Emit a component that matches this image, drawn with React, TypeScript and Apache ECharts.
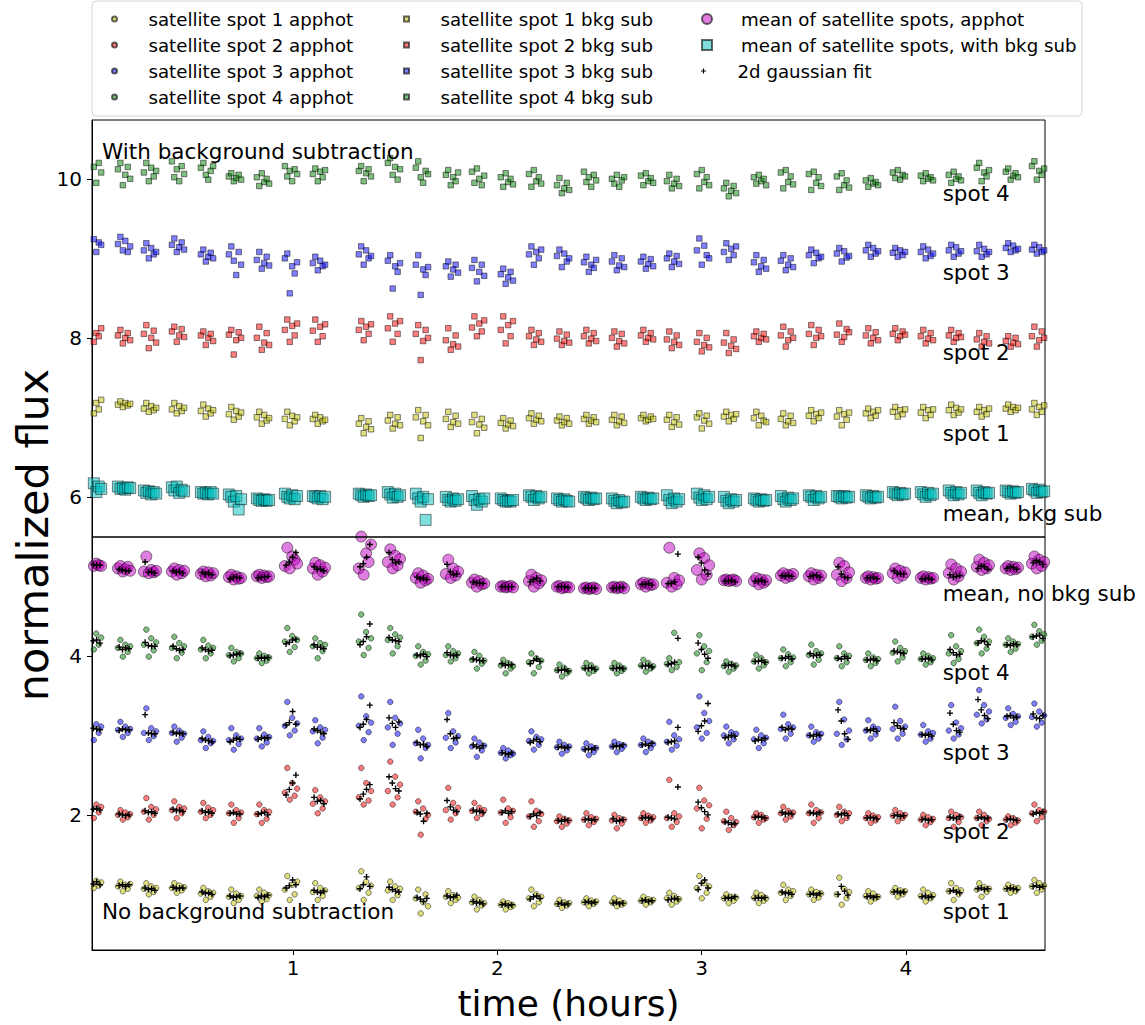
import React, { useEffect, useRef } from "react";
import * as echarts from "echarts";

// visit (cluster) times in hours
const CLUSTER_T = [0.031, 0.173, 0.3, 0.437, 0.579, 0.716, 0.853, 0.99, 1.127, 1.352, 1.494, 1.631, 1.778, 1.906, 2.047, 2.185, 2.322, 2.454, 2.591, 2.733, 2.86, 3.007, 3.139, 3.286, 3.418, 3.555, 3.692, 3.834, 3.966, 4.103, 4.24, 4.377, 4.519, 4.647];
// exposure time offsets inside a visit (hours)
const EXP_OFFSETS = [-0.03, -0.018, -0.006, 0.006, 0.018, 0.03];
const FIT_OFFSETS = [-0.024, -0.008, 0.008, 0.024];

// flux deviations in percent (flux = 1 + v/100), 6 exposures per visit
const A1 = [14,21,8,17,11,15, 10,16,4,12,7,13, 7,14,0,10,3,8, 8,14,2,11,5,9, 1,8,-7,4,-3,2, -3,6,-11,1,-7,-2, -2,6,-9,2,-6,-1, 6,23,-7,12,0,16, 3,14,-7,8,-2,5, 8,29,-7,16,2,11, 5,16,-7,10,-1,7, -5,6,-24,-10,0,-15, -3,4,-11,-1,-7,-4, -10,-3,-19,-7,-14,-11, -13,-9,-19,-11,-16,-14, -5,6,-15,0,-10,-3, -12,-7,-17,-10,-14,-11, -10,-5,-15,-8,-12,-9, -10,-5,-15,-8,-13,-11, -8,-3,-13,-6,-10,-7, -5,2,-13,-2,-9,-6, 8,23,-5,14,2,10, -5,0,-11,-3,-8,-4, -4,2,-11,-1,-8,-5, 2,12,-7,6,-2,4, 0,6,-7,3,-4,1, 0,21,-13,7,-5,3, -2,4,-9,1,-5,-3, 3,8,-3,5,0,4, -2,6,-9,2,-5,-1, 4,14,-7,8,0,5, 6,14,-3,9,3,7, 7,12,2,9,4,8, 10,18,2,14,6,11];
const A2 = [8,21,-4,13,3,10, 0,6,-6,3,-3,1, 4,21,-6,10,0,7, 6,17,-4,10,2,8, 4,15,-4,9,0,6, 2,13,-10,6,-4,3, 1,13,-10,6,-5,4, 28,59,19,40,24,33, 14,31,2,22,8,17, 22,59,13,40,18,30, 30,67,13,48,22,38, 4,17,-25,8,-5,0, 6,34,-6,15,2,9, 5,15,-4,9,1,6, 3,19,-10,8,-3,5, -2,17,-15,5,-8,1, -8,-2,-15,-5,-11,-7, -6,2,-13,-3,-9,-5, -7,0,-17,-4,-11,-6, -4,2,-10,-1,-7,-3, -4,44,-15,2,-9,-2, 8,34,-17,18,-5,12, -8,4,-19,-4,-13,-9, -3,2,-10,0,-6,-4, 2,10,-6,5,-2,3, 2,13,-10,6,-4,3, 0,10,-8,4,-4,2, -4,2,-10,-1,-7,-3, -1,6,-8,2,-4,0, -6,0,-13,-3,-9,-5, -4,4,-15,0,-9,-3, -4,4,-13,0,-8,-5, -6,-2,-13,-4,-10,-7, 2,13,-8,6,-3,4];
const A3 = [9,24,-6,14,3,11, 7,17,-2,11,3,8, 3,34,-6,9,-1,5, 3,11,-8,6,-3,2, -6,5,-16,-2,-10,-7, -6,9,-18,0,-11,-4, -4,9,-14,1,-9,-2, 12,42,0,22,6,15, 5,19,-10,10,-3,7, 12,49,-6,24,4,16, 10,42,-12,22,2,15, -10,7,-29,-4,-16,-12, -3,28,-16,5,-9,-1, -14,-4,-27,-9,-19,-13, -22,-16,-29,-19,-25,-23, -7,5,-18,-2,-12,-5, -15,-8,-23,-12,-19,-14, -17,-10,-25,-14,-21,-16, -14,-8,-21,-11,-17,-13, -12,-4,-21,-8,-16,-11, -8,17,-18,0,-13,-5, 10,49,-4,28,3,18, 0,11,-10,4,-5,2, -5,7,-16,0,-10,-3, 8,26,-4,14,2,10, 0,11,-8,4,-4,2, 2,42,-12,20,-5,6, 6,19,-4,11,1,8, 8,36,-4,18,2,11, 1,13,-8,5,-4,3, 6,38,-4,16,1,9, 26,57,15,38,20,30, 22,34,13,27,17,24, 23,40,11,30,16,25];
const A4 = [20,37,8,28,14,23, 10,20,-1,14,5,12, 14,33,-1,22,7,17, 10,24,-3,16,4,12, 8,20,-3,13,3,10, 1,10,-7,5,-3,3, -3,3,-9,0,-6,-2, 18,35,5,25,11,20, 12,22,-3,16,6,14, 18,52,1,30,10,22, 20,35,3,27,12,23, 0,12,-11,5,-6,2, 1,12,-7,6,-3,3, -5,5,-16,0,-10,-6, -12,-5,-22,-9,-16,-13, -8,3,-22,-3,-14,-6, -18,-11,-26,-15,-22,-19, -15,-9,-22,-12,-19,-16, -15,-9,-22,-12,-19,-16, -12,-5,-20,-9,-16,-13, -10,-3,-18,29,-14,-8, 3,26,-18,12,-8,6, -13,-7,-20,-10,-16,-12, -7,1,-16,-3,-12,-8, -3,8,-13,2,-8,-2, 1,14,-11,6,-5,3, -3,12,-13,3,-8,0, -5,3,-13,-2,-9,-4, 4,18,-7,10,-2,6, -4,3,-11,0,-8,-3, 3,26,-9,12,-4,6, 16,33,3,24,9,18, 14,22,5,18,9,15, 24,39,14,31,19,27];
const MEAN_APPHOT = [15,17,13,16,14,13, 10,13,6,9,12,7, 6,25,4,8,5,7, 6,10,2,8,4,7, 3,6,0,5,1,4, -1,2,-4,0,-3,-2, 0,2,-2,1,-1,0, 13,36,10,25,21,16, 10,17,2,14,6,11, 10,50,2,29,18,40, 18,34,10,26,14,22, -2,4,-8,1,-5,-3, 3,21,-2,10,1,6, -8,-4,-13,-6,-10,-9, -13,-12,-14,-13,-12,-14, -6,2,-13,-2,-9,-5, -13,-12,-15,-14,-13,-14, -15,-14,-16,-15,-14,-16, -14,-13,-15,-14,-13,-15, -10,-8,-13,-9,-11,-10, -8,36,-13,-2,-10,-5, 8,29,-4,23,2,14, -5,-4,-6,-5,-4,-6, -6,-2,-10,-4,-8,-5, 1,4,-2,2,0,3, 0,4,-4,2,-2,1, 2,17,-6,13,-2,5, -2,0,-4,-1,-3,-2, 4,10,-2,7,1,5, -2,0,-4,-1,-3,-2, 4,15,-4,10,0,6, 12,21,8,17,10,14, 10,13,8,12,9,11, 16,25,10,21,13,18];
const B1 = [14,26,5,18,10,22, 16,20,13,18,15,17, 11,18,7,14,9,12, 10,18,5,14,8,12, 8,16,1,11,5,9, 4,13,-3,8,1,6, 0,7,-8,3,-4,-1, -2,7,-10,2,-5,0, -2,3,-8,0,-5,-3, -8,-1,-20,-12,-5,-15, -4,3,-14,-8,0,-10, 0,9,-26,-5,3,-10, -2,7,-12,-6,2,-8, -6,3,-20,-9,-2,-13, -7,-1,-14,-9,-4,-11, -1,5,-8,-3,2,-5, -4,1,-10,-6,-1,-8, -2,3,-8,-4,0,-6, -3,3,-10,-5,1,-7, -1,3,-5,-3,1,-2, -3,3,-12,-6,0,-9, 0,5,-14,-4,2,-8, 1,7,-5,3,-2,4, -1,7,-10,2,-4,-6, -2,5,-10,-5,2,-7, 2,9,-5,4,-1,6, 1,9,-10,4,-3,6, 5,11,-1,7,2,9, 7,13,1,9,4,10, 6,13,-1,9,3,10, 9,16,3,12,6,10, 7,13,1,9,4,11, 11,16,7,13,9,12, 10,18,3,13,7,15];
const B2 = [10,16,-5,6,2,12, 3,10,-7,0,6,-3, 5,16,-13,0,9,-6, 8,14,-5,3,11,1, 3,8,-9,0,5,-4, 4,10,-21,-3,7,0, 0,14,-15,-6,6,-9, 10,23,-5,15,3,18, 9,23,-5,14,2,17, 10,21,-3,14,5,17, 12,27,-5,18,5,21, 5,16,-28,-4,10,0, -3,12,-15,-8,3,-11, 13,27,2,18,8,22, 10,27,-7,16,2,21, 2,10,-9,-2,6,-5, -1,8,-9,-4,4,-6, 2,10,-7,-1,6,-4, 0,8,-11,-4,5,-7, 3,10,-5,0,6,-2, -2,8,-13,-5,3,-9, -5,6,-17,-9,0,-12, -6,6,-19,-10,-2,-14, 2,8,-5,0,5,-2, 3,14,-11,-3,8,0, 5,16,-9,0,10,2, 4,18,-5,1,11,7, 3,12,-7,0,7,-3, 5,12,-3,2,8,4, 2,10,-7,-1,6,-3, 3,10,-5,0,6,1, -2,6,-11,-5,2,-7, -4,2,-11,-6,0,-8, 2,14,-11,-3,8,0];
const B3 = [31,14,24,8,20,17, 18,27,10,22,8,15, 10,19,0,13,5,8, 17,25,8,14,20,11, 5,11,-4,2,7,0, 5,15,-3,-21,8,-8, -2,8,-13,-6,2,-9, 0,6,-44,-10,-19,-5, -6,2,-15,-3,-10,-8, 5,15,-8,10,0,3, -3,4,-38,-10,-17,-6, -8,4,-46,-14,-21,-11, -10,-4,-23,-14,-8,-18, -12,-2,-29,-17,-8,-22, -20,-13,-32,-24,-17,-28, 5,15,-8,8,0,11, 3,11,-11,6,-4,0, -5,2,-17,-8,-12,-2, -4,4,-15,-9,0,-11, -4,2,-13,-7,-1,-10, 0,6,-11,-4,3,-7, 10,25,-8,16,4,0, 8,19,-2,12,4,15, -5,4,-17,-10,-2,-13, -3,4,-15,-8,0,-11, 4,11,-6,7,0,2, 6,13,-4,9,1,3, 10,17,2,13,6,9, 7,13,2,10,4,8, 8,15,0,11,3,6, 10,17,2,14,6,9, 9,17,2,12,5,8, 13,19,8,16,10,12, 11,17,6,14,8,10];
const B4 = [28,5,15,-5,20,8, 12,20,-8,5,15,0, 8,20,-3,14,3,10, 22,2,12,-3,16,6, 14,20,5,-1,10,16, 3,7,-3,1,5,-1, 2,-9,7,-4,0,-6, 16,3,10,-3,12,6, 6,13,-3,9,2,11, 10,16,-3,7,12,3, 20,26,5,15,-1,12, 14,22,2,-5,10,6, 5,11,-8,2,-3,8, 9,-5,13,0,-8,4, 2,-10,7,-4,0,-7, 6,-10,11,-3,2,-6, -8,1,-18,-12,-5,-14, 9,-4,2,-10,5,-2, 0,-6,5,-10,-2,2, 4,-8,7,-3,1,-5, -3,5,-12,-6,0,-9, 6,-12,11,-4,2,-8, -12,-5,-22,-15,-9,-18, 2,-6,5,-3,0,-8, 8,-12,11,-4,3,-7, 6,-14,9,-5,2,-9, 3,-14,7,-8,-2,-11, -2,-10,1,-6,-4,-8, 8,1,11,-1,5,3, 4,-3,7,0,2,-2, 5,-5,9,0,3,-2, 14,20,-3,8,3,11, 9,13,-1,4,7,2, 16,22,-1,10,5,13];
const MEAN_BKG = [15,9,17,6,13,10, 13,10,11,9,12,11, 8,5,7,3,6,4, 12,8,13,5,9,7, 6,4,5,3,6,4, 3,0,-6,1,-16,-3, -2,-4,-5,-3,-5,-4, 4,0,-2,2,-3,1, 1,0,-2,1,-3,0, 4,2,0,3,1,2, 6,3,-1,4,0,2, 4,-2,-6,0,-29,-3, 0,-4,-6,-2,-5,-3, 1,-4,-10,-3,-6,-2, -2,-4,-6,-5,-6,-4, 2,0,-4,1,-2,0, -2,-4,-6,-3,-5,-6, 0,-2,-4,-1,-3,-2, -2,-5,-8,-4,-7,-6, 0,-2,-4,-1,-3,-2, 2,-4,-8,-2,-6,-3, 4,-1,-4,2,-3,0, 0,-5,-8,-3,-6,-4, -2,-4,-6,-3,-5,-4, 1,-3,-6,-1,-4,-2, 2,0,-4,1,-2,0, 1,0,-2,1,-1,0, 2,0,-2,1,-1,0, 6,4,2,5,3,4, 6,3,0,5,2,4, 8,5,2,6,3,5, 8,5,2,6,4,5, 8,6,4,7,5,6, 10,8,5,9,6,7];
// 2d gaussian fit flux deviations in percent, 4 fits per visit
const G1 = [15,13,16,12, 11,12,10,12, 8,6,7,5, 9,7,8,8, 3,1,2,0, -2,-4,-3,-2, -4,-2,-3,-1, 8,11,18,12, 5,3,2,4, 7,12,22,10, 9,6,4,3, -4,-6,-9,-5, -2,-4,-3,-1, -9,-11,-10,-12, -13,-12,-14,-13, -6,-3,-2,-5, -12,-11,-13,-12, -10,-9,-11,-10, -11,-10,-12,-11, -8,-7,-9,-8, -7,-6,-5,-6, 6,14,18,8, -5,-4,-5,-3, -5,-4,-5,-4, 3,1,2,0, 0,1,-1,1, 0,10,4,-1, -3,-2,-4,-3, 3,4,2,3, -3,-2,-4,-3, 4,5,3,2, 7,8,6,7, 7,8,7,6, 10,11,9,10];
const G2 = [9,7,8,6, 1,0,-1,0, 5,3,4,2, 7,5,6,4, 5,3,4,2, 2,3,1,1, 1,2,3,0, 25,32,40,50, 22,17,18,14, 20,26,32,38, 48,40,33,30, 3,1,-8,2, 18,10,6,4, 6,4,5,3, 3,5,2,4, -2,1,-1,3, -7,-8,-6,-7, -6,-5,-7,-6, -5,-8,-7,-6, -4,-3,-4,-5, -3,-4,-5,35, 16,9,4,0, -9,-10,-12,-11, -3,-2,-3,-4, 3,1,2,1, 3,2,1,3, 1,0,2,-1, -4,-3,-4,-5, -1,0,-2,-1, -6,-5,-7,-6, -3,-4,-5,-2, -4,-3,-5,-4, -6,-5,-6,-7, 1,3,2,4];
const G3 = [10,9,8,7, 6,8,7,7, 26,3,2,2, 4,2,3,2, -4,-6,-7,-8, -8,-6,-4,-5, -5,-3,-4,-3, 13,16,30,14, 8,6,4,2, 10,14,20,38, 22,15,10,17, -9,-12,-11,-14, 20,2,-4,-3, -12,-14,-16,-13, -22,-23,-24,-22, -9,-7,-5,-8, -15,-14,-16,-15, -18,-17,-18,-16, -14,-13,-14,-12, -12,-11,-13,-10, -9,-8,-7,10, 5,12,18,40, -3,-2,0,-1, -7,-5,-6,-4, 10,7,9,8, 0,-1,1,0, 32,18,2,-5, 7,6,8,5, 16,12,9,8, 1,0,1,-1, 28,14,6,4, 45,32,25,21, 24,25,22,23, 27,22,21,25];
const G4 = [22,19,20,16, 11,8,10,9, 17,13,12,12, 12,9,7,8, 10,8,6,7, 0,1,2,3, -3,-2,-3,-2, 15,17,20,21, 14,11,11,9, 14,18,24,40, 23,20,19,18, 1,0,2,-1, 4,1,0,1, -4,-5,-6,-6, -10,-12,-11,-11, -10,-6,-4,-7, -18,-18,-17,-19, -16,-16,-15,-17, -16,-16,-15,-16, -13,-13,-12,-14, -11,-10,-8,22, 16,8,2,-3, -12,-12,-11,-13, -7,-7,-6,-8, -3,-3,-1,-4, 3,0,1,1, -3,-4,-1,-3, -5,-5,-4,-6, 6,5,4,3, -4,-4,-3,-5, 8,4,1,2, 16,19,18,14, 14,13,15,14, 24,25,26,22];
const G_MEAN = [16,15,14,14, 9,8,7,7, 18,5,6,4, 7,5,6,4, 5,3,4,2, -3,-1,-1,-2, -2,-1,-1,0, 14,18,24,30, 12,9,9,7, 12,16,24,40, 30,21,17,18, -1,-3,-2,-4, 15,6,2,3, -7,-8,-8,-9, -13,-13,-13,-13, -7,-4,-2,-6, -13,-13,-13,-14, -15,-15,-15,-15, -15,-15,-14,-14, -10,-10,-9,-11, -9,-9,-7,28, 24,17,8,3, -6,-6,-5,-7, -6,-6,-5,-7, 1,0,1,0, 0,1,1,-1, 12,3,-1,-2, -2,-2,-1,-3, 7,4,3,3, -3,-3,-2,-4, 2,-1,0,1, 10,13,12,9, 10,12,11,9, 17,20,18,15];

// row labels
const ROW_LABELS = ["spot 4", "spot 3", "spot 2", "spot 1", "mean, bkg sub", "mean, no bkg sub", "spot 4", "spot 3", "spot 2", "spot 1"];
const ROW_LABEL_Y = [9.82, 8.82, 7.81, 6.8, 5.79, 4.78, 3.79, 2.78, 1.79, 0.78];
const ROW_LABEL_X = 4.18;
const PANEL_TITLES = ["With background subtraction", "No background subtraction"];
const PANEL_TITLE_Y = [10.35, 0.78];
const PANEL_TITLE_X = 0.065;
const DIVIDER_Y = 5.5;
const X_TICKS = [1, 2, 3, 4];
const Y_TICKS = [2, 4, 6, 8, 10];

const FONT = "DejaVu Sans";
const PLUS = "path://M2,0H3.2V2H5.2V3.2H3.2V5.2H2V3.2H0V2H2Z";
const CIRCLE_ICON = "path://M5,0A5,5,0,1,1,5,10A5,5,0,1,1,5,0Z";
const SQUARE_ICON = "path://M0,0H10V10H0Z";
const SPOT_FILL = ["rgba(191,191,0,0.5)", "rgba(255,0,0,0.5)", "rgba(0,0,255,0.5)", "rgba(0,128,0,0.5)"];
const EDGE = "rgba(0,0,0,0.6)";

function toPts(vals: number[], offsets: number[], base: number) {
  const n = offsets.length;
  const out: number[][] = [];
  vals.forEach((v, i) => {
    const c = Math.floor(i / n);
    if (c < CLUSTER_T.length) out.push([CLUSTER_T[c] + offsets[i % n], base + v / 100]);
  });
  return out;
}

export default function App() {
  const ref = useRef<HTMLDivElement>(null);
  useEffect(() => {
    if (!ref.current) return;
    const chart = echarts.init(ref.current, null, { renderer: "svg" });
    const apphot = [A1, A2, A3, A4];
    const bkg = [B1, B2, B3, B4];
    const fits = [G1, G2, G3, G4];
    const series: any[] = [];
    apphot.forEach((vals, k) => {
      series.push({
        name: `satellite spot ${k + 1} apphot`, type: "scatter", symbol: "circle", symbolSize: 5.5,
        itemStyle: { color: SPOT_FILL[k], borderColor: EDGE, borderWidth: 0.8, opacity: 1 },
        data: toPts(vals, EXP_OFFSETS, k + 1), z: 2,
      });
    });
    series.push({
      name: "mean of satellite spots, apphot", type: "scatter", symbol: "circle", symbolSize: 11,
      itemStyle: { color: "rgba(191,0,191,0.5)", borderColor: EDGE, borderWidth: 0.8, opacity: 1 },
      data: toPts(MEAN_APPHOT, EXP_OFFSETS, 5), z: 2,
    });
    bkg.forEach((vals, k) => {
      series.push({
        name: `satellite spot ${k + 1} bkg sub`, type: "scatter", symbol: "rect", symbolSize: 5.5,
        itemStyle: { color: SPOT_FILL[k], borderColor: EDGE, borderWidth: 0.8, opacity: 1 },
        data: toPts(vals, EXP_OFFSETS, k + 7), z: 2,
      });
    });
    series.push({
      name: "mean of satellite spots, with bkg sub", type: "scatter", symbol: "rect", symbolSize: 11,
      itemStyle: { color: "rgba(0,191,191,0.5)", borderColor: EDGE, borderWidth: 0.8, opacity: 1 },
      data: toPts(MEAN_BKG, EXP_OFFSETS, 6), z: 2,
    });
    [...fits, G_MEAN].forEach((vals, k) => {
      series.push({
        name: "2d gaussian fit", type: "scatter", symbol: PLUS, symbolSize: 6,
        itemStyle: { color: "#000", opacity: 1 },
        data: toPts(vals, FIT_OFFSETS, k + 1), z: 3,
      });
    });
    const labelData: any[] = ROW_LABELS.map((t, i) => ({
      value: [ROW_LABEL_X, ROW_LABEL_Y[i]],
      label: { formatter: t },
    }));
    PANEL_TITLES.forEach((t, i) => labelData.push({ value: [PANEL_TITLE_X, PANEL_TITLE_Y[i]], label: { formatter: t } }));
    series.push({
      name: "labels", type: "scatter", symbolSize: 0, silent: true, z: 5,
      itemStyle: { opacity: 1 },
      label: { show: true, position: "right", distance: 0, fontSize: 21.5, color: "#000", opacity: 1, fontFamily: FONT },
      data: labelData,
      markLine: {
        silent: true, symbol: "none", label: { show: false },
        lineStyle: { color: "#000", width: 1.5, type: "solid", opacity: 1 },
        data: [{ yAxis: DIVIDER_Y }],
      },
    });

    const legendBase = {
      orient: "vertical", itemWidth: 58, itemGap: 6, padding: 0, selectedMode: false, symbolKeepAspect: true,
      textStyle: { fontSize: 18.2, lineHeight: 20, color: "#000", fontFamily: FONT },
    };
    chart.setOption({
      animation: false,
      textStyle: { fontFamily: FONT },
      grid: { left: 92, top: 120, width: 953, height: 830, show: true, borderColor: "#000", borderWidth: 1, outerBoundsMode: "none", containLabel: false },
      graphic: [{
        type: "rect", z: 0, shape: { x: 92, y: 1, width: 990, height: 115, r: 4 },
        style: { fill: "#fff", stroke: "#d5d5d5", lineWidth: 1 },
      }],
      legend: [
        { ...legendBase, left: 111, top: 9, itemHeight: 5, data: [1, 2, 3, 4].map((k) => ({ name: `satellite spot ${k} apphot`, icon: CIRCLE_ICON })) },
        { ...legendBase, left: 403, top: 9, itemHeight: 5, data: [1, 2, 3, 4].map((k) => ({ name: `satellite spot ${k} bkg sub`, icon: SQUARE_ICON })) },
        { ...legendBase, left: 701, top: 9, itemHeight: 10, data: [{ name: "mean of satellite spots, apphot", icon: CIRCLE_ICON }] },
        { ...legendBase, left: 701, top: 35, itemHeight: 10, data: [{ name: "mean of satellite spots, with bkg sub", icon: SQUARE_ICON }] },
        { ...legendBase, left: 701, top: 61, itemHeight: 5, data: [{ name: "2d gaussian fit", icon: PLUS }] },
      ],
      xAxis: {
        type: "value", min: 0.016, max: 4.681,
        name: "time (hours)", nameLocation: "middle", nameGap: 32, nameMoveOverlap: false,
        nameTextStyle: { fontSize: 36, lineHeight: 42, color: "#000", fontFamily: FONT },
        axisLine: { show: true, lineStyle: { color: "#000", width: 1 } },
        axisTick: { show: true, length: 5, customValues: X_TICKS, lineStyle: { color: "#000" } },
        axisLabel: { customValues: X_TICKS, fontSize: 20, color: "#000", margin: 8, fontFamily: FONT },
        splitLine: { show: false },
      },
      yAxis: {
        type: "value", min: 0.3, max: 10.74,
        name: "normalized flux", nameLocation: "middle", nameGap: 38, nameRotate: 90, nameMoveOverlap: false,
        nameTextStyle: { fontSize: 43, color: "#000", fontFamily: FONT },
        axisLine: { show: true, lineStyle: { color: "#000", width: 1 } },
        axisTick: { show: true, length: 5, customValues: Y_TICKS, lineStyle: { color: "#000" } },
        axisLabel: { customValues: Y_TICKS, fontSize: 20, color: "#000", margin: 10, fontFamily: FONT },
        splitLine: { show: false },
      },
      series,
    });
    return () => chart.dispose();
  }, []);
  return <div ref={ref} style={{ position: "fixed", left: 0, top: 0, width: 1145, height: 1025, background: "#fff" }} />;
}
